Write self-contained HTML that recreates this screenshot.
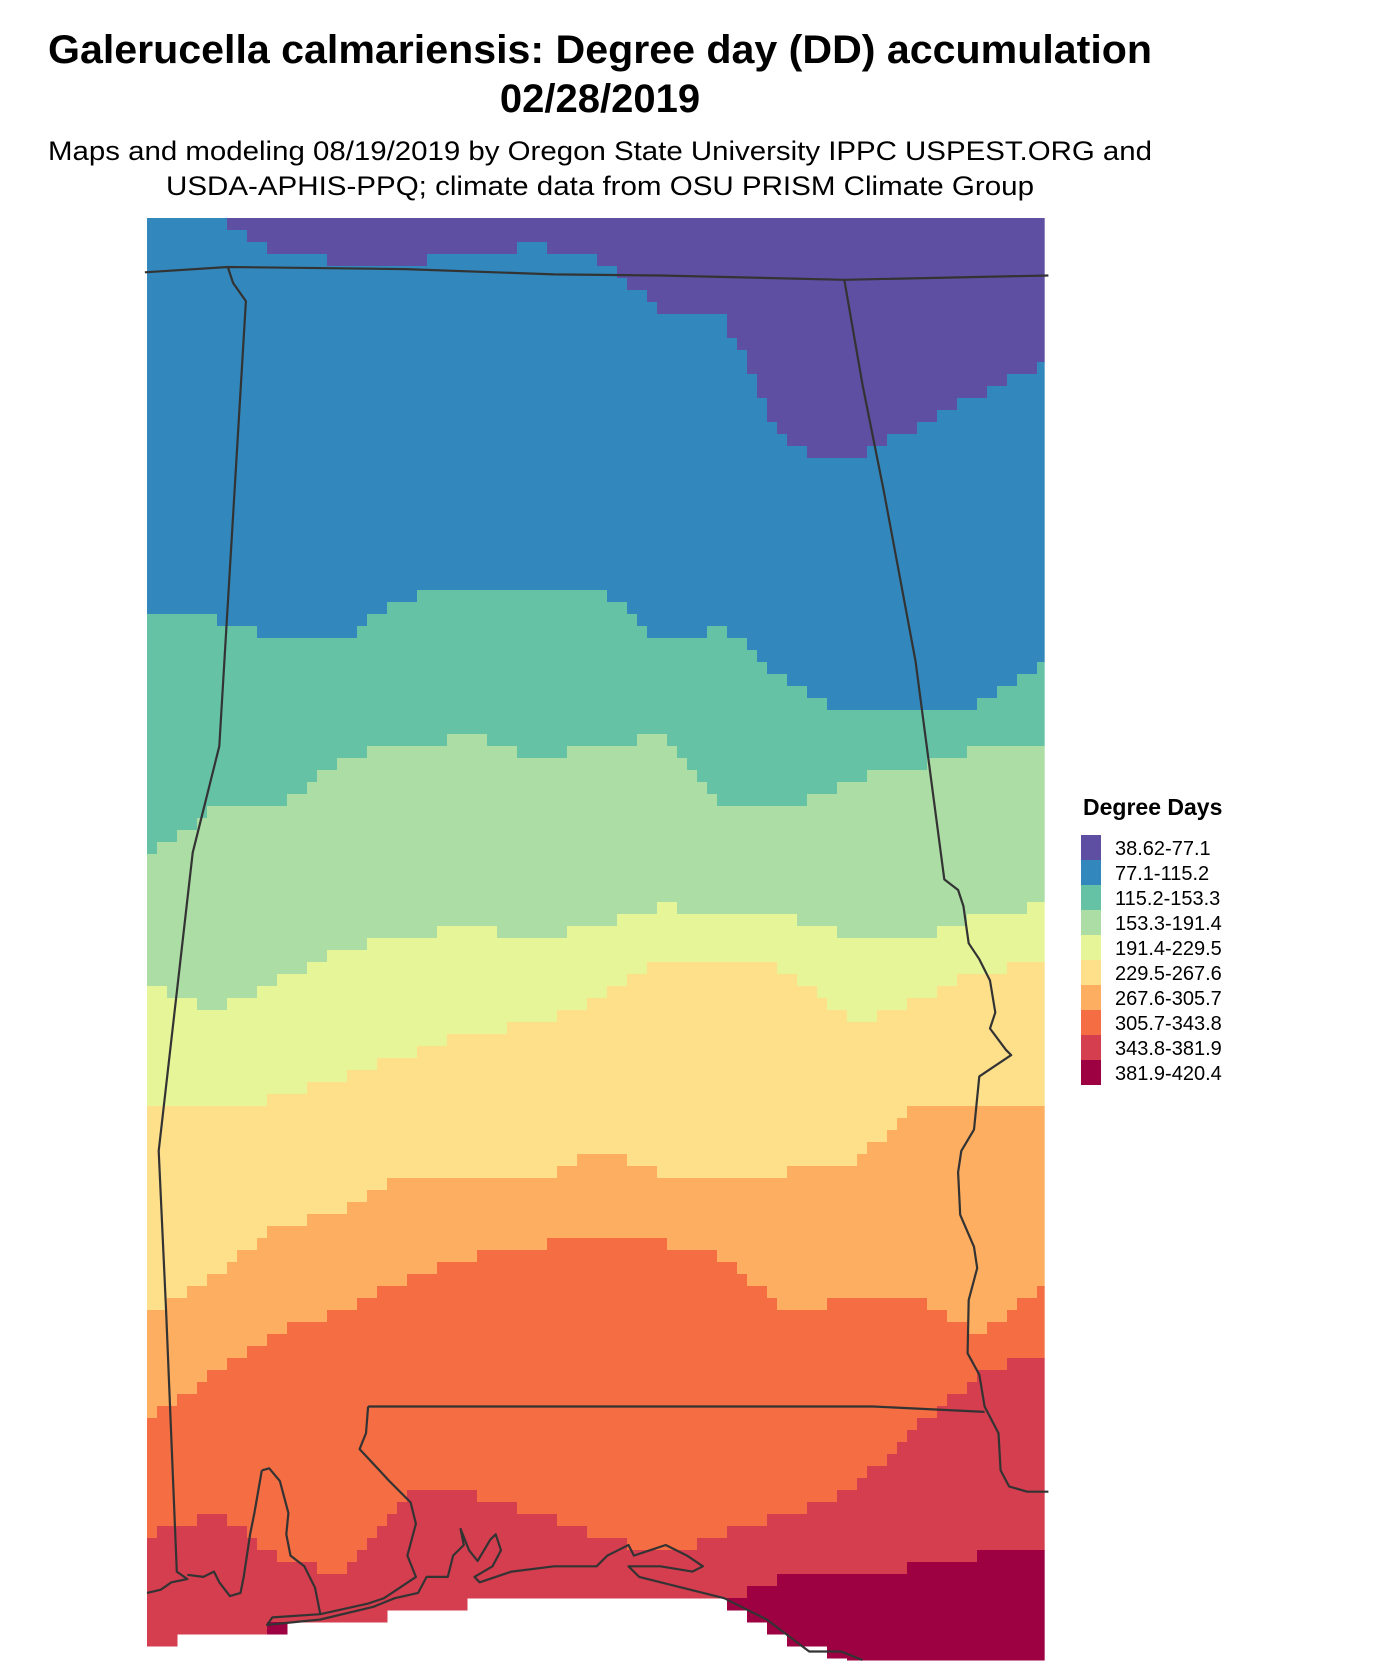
<!DOCTYPE html>
<html><head><meta charset="utf-8">
<style>
html,body{margin:0;padding:0;background:#fff;}
svg{display:block;}
text{font-family:"Liberation Sans",Arial,sans-serif;}
</style></head>
<body>
<svg id="chart" width="1399" height="1670" viewBox="0 0 1399 1670">
  <text x="600" y="63" text-anchor="middle" font-size="40" font-weight="bold" textLength="1104" lengthAdjust="spacingAndGlyphs">Galerucella calmariensis: Degree day (DD) accumulation</text>
  <text x="600" y="112" text-anchor="middle" font-size="40" font-weight="bold">02/28/2019</text>
  <text x="600" y="160" text-anchor="middle" font-size="27" textLength="1104" lengthAdjust="spacingAndGlyphs">Maps and modeling 08/19/2019 by Oregon State University IPPC USPEST.ORG and</text>
  <text x="600" y="195" text-anchor="middle" font-size="27" textLength="868" lengthAdjust="spacingAndGlyphs">USDA-APHIS-PPQ; climate data from OSU PRISM Climate Group</text>
  <g id="raster"></g>
  <g id="borders"></g>
  <g id="legend">
    <text x="1083" y="815" font-size="23" font-weight="bold">Degree Days</text>
  </g>
</svg>
<script>
// Legend classes
const classLabels = ["38.62-77.1","77.1-115.2","115.2-153.3","153.3-191.4","191.4-229.5","229.5-267.6","267.6-305.7","305.7-343.8","343.8-381.9","381.9-420.4"];
const classColors = ["#5E4FA2","#3288BD","#66C2A5","#ABDDA4","#E6F598","#FEE08B","#FDAE61","#F46D43","#D53E4F","#9E0142"];
// Sample longitudes (map x units) and the latitude (map y units) of each class boundary
const sampleX = [137,200,260,320,380,440,500,560,620,680,740,800,860,920,981];
const b1 = [204,204,235,245,245,240,230,240,290,300,420,430,400,370,340];
const b2 = [570,580,600,600,560,550,550,550,600,590,640,670,670,660,620];
const b3 = [805,760,760,710,700,690,710,700,690,760,760,730,720,700,700];
const b4 = [920,950,920,890,880,870,880,870,850,860,860,880,880,860,850];
const b5 = [1040,1040,1030,1010,990,970,960,940,900,900,910,960,940,910,905];
const b6 = [1235,1200,1150,1140,1100,1110,1110,1080,1100,1110,1100,1090,1040,1040,1040];
const b7 = [1330,1290,1250,1230,1200,1180,1170,1160,1165,1180,1230,1220,1220,1250,1210];
const b8 = [1440,1420,1460,1480,1400,1400,1420,1440,1460,1440,1420,1400,1340,1290,1270];
const b9 = [1600,1600,1520,1560,1600,1600,1600,1600,1600,1500,1480,1480,1470,1460,1460];
const dataBottom = [1545,1530,1530,1520,1515,1505,1497,1495,1495,1505,1540,1558,1558,1558,1558];
const boundaries = [b1,b2,b3,b4,b5,b6,b7,b8,b9];

const NS = "http://www.w3.org/2000/svg";
const KX = 1.063;
function xScale(d){ return 147 + (d-137)*KX; }
function yScale(d){ return 218 + (d-204)*1.065; }
function xInv(px){ return 137 + (px-147)/KX; }
function interp(arr, mx){
  if(mx<=sampleX[0]) return arr[0];
  for(let i=1;i<sampleX.length;i++){
    if(mx<=sampleX[i]){ const t=(mx-sampleX[i-1])/(sampleX[i]-sampleX[i-1]); return arr[i-1]+t*(arr[i]-arr[i-1]); }
  }
  return arr[arr.length-1];
}
const raster = document.getElementById('raster');
const x0 = xScale(137), x1 = xScale(981), y0 = yScale(204), y1 = yScale(1558);
const cw = 10, ch = 12;
for(let px=x0; px<x1; px+=cw){
  const w = Math.min(cw, x1-px);
  const mx = xInv(px + w/2);
  const bots = yScale(interp(dataBottom, mx));
  const bys = boundaries.map(b => yScale(interp(b, mx)));
  let runStart = null, runCls = -1;
  const flush = (endY) => {
    if(runCls<0) return;
    const r = document.createElementNS(NS,'rect');
    r.setAttribute('x', px); r.setAttribute('y', runStart);
    r.setAttribute('width', w+0.5); r.setAttribute('height', endY-runStart+0.5);
    r.setAttribute('fill', classColors[runCls]);
    
    
    raster.appendChild(r);
  };
  for(let py=y0; py<y1; py+=ch){
    const h = Math.min(ch, y1-py);
    const cy = py + h/2;
    let cls = -1;
    if(cy < bots){ cls = 0; for(const by of bys){ if(cy > by) cls++; } }
    if(cls !== runCls){ flush(py); runStart = py; runCls = cls; }
  }
  flush(y1);
}
// Borders (map units)
const borderLines = [
  [[135,255],[213,250],[380,252],[520,257],[620,258],[793,262],[985,258]],
  [[213,250],[218,265],[230,282],[205,700],[180,800],[148,1080],[155,1230],[165,1475],[175,1482],[160,1485],[150,1492],[137,1495]],
  [[793,262],[810,360],[830,460],[860,620],[887,825],[900,835],[905,850],[910,885],[920,900],[930,920],[935,950],[930,965],[945,985],[950,990],[935,1000],[920,1010],[915,1060],[903,1080],[900,1100],[902,1140],[915,1170],[918,1190],[910,1220],[909,1270],[920,1290],[925,1320],[938,1345],[940,1380],[948,1395],[965,1400],[985,1400]],
  [[345,1320],[820,1320],[925,1325]],
  [[345,1320],[343,1345],[337,1360],[365,1390],[385,1410],[390,1430],[382,1460],[390,1480],[375,1490],[360,1500],[345,1505],[300,1515],[255,1518],[250,1525],[300,1520],[350,1508],[370,1500],[392,1495],[400,1480],[420,1480],[425,1460],[435,1450],[432,1435],[440,1455],[448,1465],[460,1445],[465,1440],[470,1455],[462,1470],[445,1480],[450,1485],[480,1475],[520,1470],[560,1470],[570,1460],[580,1455],[590,1450],[595,1460],[610,1455],[625,1450],[645,1460],[660,1470],[650,1475],[620,1470],[590,1470],[600,1480],[640,1490],[680,1500],[720,1520],[740,1535],[760,1550],[790,1550],[810,1558]],
  [[245,1380],[252,1378],[262,1390],[270,1420],[268,1440],[272,1460],[285,1470],[295,1490],[300,1515]],
  [[245,1380],[238,1420],[234,1440],[228,1480],[225,1495],[215,1498],[205,1485],[200,1475],[190,1480],[175,1478]]
];
const borders = document.getElementById('borders');
borderLines.forEach(line => {
  const p = document.createElementNS(NS,'polyline');
  p.setAttribute('points', line.map(pt => xScale(pt[0]).toFixed(1)+','+yScale(pt[1]).toFixed(1)).join(' '));
  p.setAttribute('fill','none'); p.setAttribute('stroke','#333'); p.setAttribute('stroke-width','2.2');
  p.setAttribute('stroke-linejoin','round');
  
  
  borders.appendChild(p);
});
// Legend
const legend = document.getElementById('legend');
classLabels.forEach((lab,i) => {
  const r = document.createElementNS(NS,'rect');
  r.setAttribute('x',1081); r.setAttribute('y',835+i*25); r.setAttribute('width',20); r.setAttribute('height',25);
  r.setAttribute('fill',classColors[i]);
  
  
  legend.appendChild(r);
  const t = document.createElementNS(NS,'text');
  t.setAttribute('x',1115); t.setAttribute('y',855+i*25); t.setAttribute('font-size','20');
  t.textContent = lab;
  
  
  legend.appendChild(t);
});
</script>
</body></html>
